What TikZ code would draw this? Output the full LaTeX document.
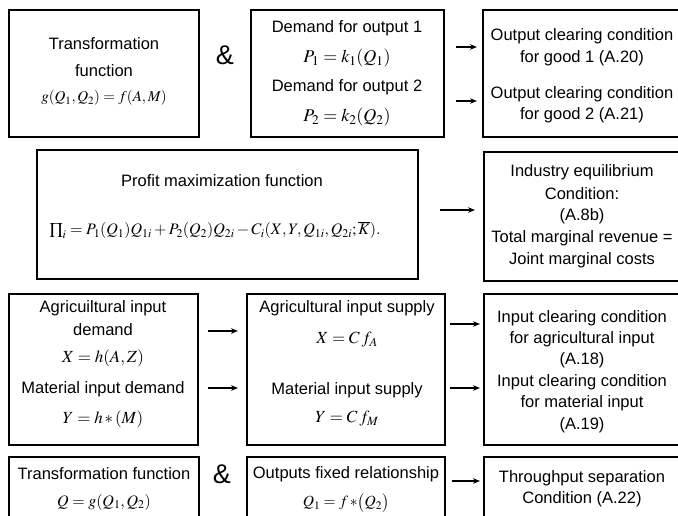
\documentclass[tikz,border=0pt]{standalone}
\usepackage{mathptmx}
\usepackage[no-math]{fontspec}
\setmainfont{Liberation Sans}
\usetikzlibrary{shadows,arrows.meta}
\begin{document}
\begin{tikzpicture}[x=1pt,y=-1pt,
  box/.style={draw, line width=1.3pt, fill=white, inner sep=0pt,
    general shadow={shadow xshift=1pt, shadow yshift=-1pt, fill=black}},
  txt/.style={font=\fontsize{16.5}{20}\selectfont, inner sep=0pt},
  mth/.style={font=\fontsize{16}{18}\selectfont, inner sep=0pt},
  amp/.style={font=\fontsize{27}{30}\selectfont, inner sep=0pt},
  arr/.style={-{Stealth[length=7pt,width=5.5pt]}, line width=1.3pt}]
\useasboundingbox (0,0) rectangle (678,515);
\clip (0,0) rectangle (678,515);
% boxes
\node[box, minimum width=190pt, minimum height=127pt] (A) at (104,73.5) {};
\node[box, minimum width=193pt, minimum height=127pt] (B) at (347.5,73.5) {};
\node[box, minimum width=217pt, minimum height=127pt] (C) at (591.5,73.5) {};
\node[box, minimum width=381pt, minimum height=129pt] (D) at (227.5,214.5) {};
\node[box, minimum width=216pt, minimum height=129pt] (E) at (592,216.5) {};
\node[box, minimum width=189pt, minimum height=151pt] (F) at (103.5,369.5) {};
\node[box, minimum width=198pt, minimum height=151pt] (G) at (346,369.5) {};
\node[box, minimum width=216pt, minimum height=151pt] (H) at (592,369.5) {};
\node[box, minimum width=190pt, minimum height=83pt] (I) at (104,498.5) {};
\node[box, minimum width=198pt, minimum height=83pt] (J) at (346,498.5) {};
\node[box, minimum width=216pt, minimum height=83pt] (K) at (592,498.5) {};
% row 1
\node[txt] (a1) at (104,44) {Transformation};
\node[txt] (a2) at (104,71) {function};
\node[mth, font=\fontsize{15}{17}\selectfont] (a3) at (104,98) {$g(Q_1,Q_2) = f(A,M)$};
\node[amp] (amp1) at (225,55) {\&};
\node[txt] (b1) at (347,28) {Demand for output 1};
\node[mth, font=\fontsize{18}{20}\selectfont] (b2) at (347,58) {$P_1 = k_1(Q_1)$};
\node[txt] (b3) at (347,87) {Demand for output 2};
\node[mth, font=\fontsize{18}{20}\selectfont] (b4) at (347,117) {$P_2 = k_2(Q_2)$};
\node[txt] (c1) at (582,36) {Output clearing condition};
\node[txt] (c2) at (582,58) {for good 1 (A.20)};
\node[txt] (c3) at (582,94) {Output clearing condition};
\node[txt] (c4) at (582,115) {for good 2 (A.21)};
% row 2
\node[txt] (d1) at (222,181) {Profit maximization function};
\node[mth] (d2) at (215,230) {$\textstyle\prod\nolimits_i = P_1(Q_1)Q_{1i} + P_2(Q_2)Q_{2i} - C_i(X,Y,Q_{1i},Q_{2i};\overline{K}).$};
\node[txt] (e1) at (582,172) {Industry equilibrium};
\node[txt] (e2) at (582,194) {Condition:};
\node[txt] (e3) at (582,216) {(A.8b)};
\node[txt] (e4) at (582,238) {Total marginal revenue =};
\node[txt] (e5) at (582,260) {Joint marginal costs};
% row 3
\node[txt] (f1) at (103,308) {Agricuiltural input};
\node[txt] (f2) at (103,330) {demand};
\node[mth, font=\fontsize{17}{19}\selectfont] (f3) at (103,358) {$X = h(A,Z)$};
\node[txt] (f4) at (103,389) {Material input demand};
\node[mth, font=\fontsize{17}{19}\selectfont] (f5) at (103,419) {$Y = h\,{*}\,(M)$};
\node[txt] (g1) at (347,308) {Agricultural input supply};
\node[mth, font=\fontsize{17}{19}\selectfont] (g2) at (347,340) {$X = C\,f_A$};
\node[txt] (g3) at (347,390) {Material input supply};
\node[mth, font=\fontsize{17}{19}\selectfont] (g4) at (347,419) {$Y = C\,f_M$};
\node[txt] (h1) at (582,318) {Input clearing condition};
\node[txt] (h2) at (582,339) {for agricultural input};
\node[txt] (h3) at (582,360) {(A.18)};
\node[txt] (h4) at (582,382) {Input clearing condition};
\node[txt] (h5) at (582,403) {for material input};
\node[txt] (h6) at (582,425) {(A.19)};
% row 4
\node[txt] (i1) at (104,474) {Transformation function};
\node[mth] (i2) at (104,502) {$Q = g(Q_1,Q_2)$};
\node[amp] (amp2) at (222,474) {\&};
\node[txt] (j1) at (346,474) {Outputs fixed relationship};
\node[mth, font=\fontsize{15.5}{17}\selectfont] (j2) at (346,503) {$Q_1 = f\,{*}\bigl(Q_2\bigr)$};
\node[txt] (k1) at (582,478) {Throughput separation};
\node[txt] (k2) at (582,499) {Condition (A.22)};
% arrows
\coordinate (p1s) at (456,47);  \coordinate (p1e) at (477,47);
\coordinate (p2s) at (456,101); \coordinate (p2e) at (477,101);
\coordinate (p3s) at (440,210); \coordinate (p3e) at (475,210);
\coordinate (p4s) at (208,331); \coordinate (p4e) at (238,331);
\coordinate (p5s) at (208,388); \coordinate (p5e) at (238,388);
\coordinate (p6s) at (450,324); \coordinate (p6e) at (480,324);
\coordinate (p7s) at (450,388); \coordinate (p7e) at (480,388);
\coordinate (p8s) at (452,481); \coordinate (p8e) at (480,481);
\draw[arr] (p1s) -- (p1e);
\draw[arr] (p2s) -- (p2e);
\draw[arr] (p3s) -- (p3e);
\draw[arr] (p4s) -- (p4e);
\draw[arr] (p5s) -- (p5e);
\draw[arr] (p6s) -- (p6e);
\draw[arr] (p7s) -- (p7e);
\draw[arr] (p8s) -- (p8e);
\end{tikzpicture}
\end{document}
